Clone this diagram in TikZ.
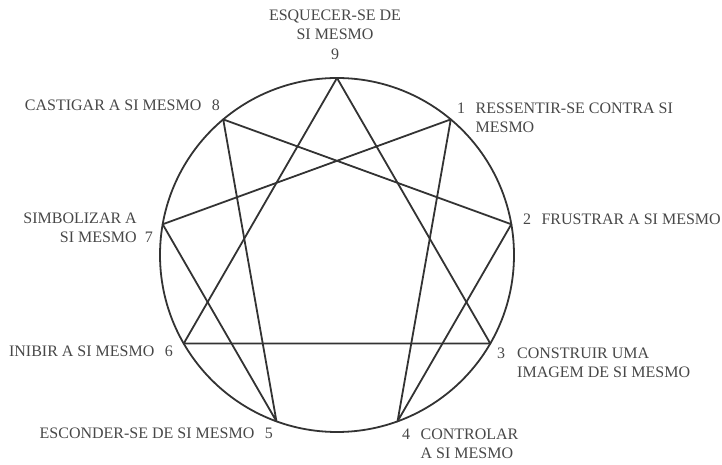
\documentclass[tikz,border=0pt]{standalone}
\usepackage{fontspec}
\setmainfont{Liberation Serif}
\usetikzlibrary{positioning, calc}

\begin{document}
\begin{tikzpicture}[
    x=1pt, y=1pt,
    ring/.style={
        draw=black!80,
        line width=1.8pt
    },
    figura/.style={
        draw=black!80,
        line width=1.8pt,
        line join=round
    },
    rotulo/.style={
        inner sep=0pt,
        text=black!72,
        font=\fontsize{16}{19.5}\selectfont
    }
]
    \useasboundingbox (0,0) rectangle (722,465);

    % Circle and the nine points
    \coordinate (centro) at (337,210);
    \draw[ring] (centro) circle (177pt);
    \foreach \n/\ang in {9/90, 1/50, 2/10, 3/-30, 4/-70, 5/-110, 6/-150, 7/170, 8/130}
        \coordinate (p\n) at ($(centro)+(\ang:177pt)$);

    % Triangle 9-3-6
    \draw[figura] (p9) -- (p3) -- (p6) -- cycle;
    % Hexad 1-4-2-8-5-7
    \draw[figura] (p1) -- (p4) -- (p2) -- (p8) -- (p5) -- (p7) -- cycle;

    % Labels
    \node[rotulo, align=center, anchor=north] (l9) at (335,455.5) {ESQUECER-SE DE\\SI MESMO\\9};
    \node[rotulo, align=left, anchor=north west] (l1) at (457,362.5)
        {\makebox[1.15em][l]{1}RESSENTIR-SE CONTRA SI\\\hspace*{1.15em}MESMO};
    \node[rotulo, anchor=base west] (l2) at (523,240) {\makebox[1.15em][l]{2}FRUSTRAR A SI MESMO};
    \node[rotulo, align=left, anchor=north west] (l3) at (497,117.5)
        {\makebox[1.25em][l]{3}CONSTRUIR UMA\\\hspace*{1.25em}IMAGEM DE SI MESMO};
    \node[rotulo, align=left, anchor=north west] (l4) at (402,36.5)
        {\makebox[1.15em][l]{4}CONTROLAR\\\hspace*{1.15em}A SI MESMO};
    \node[rotulo, anchor=base east] (l5) at (273,26) {ESCONDER-SE DE SI MESMO\makebox[1.15em][r]{5}};
    \node[rotulo, anchor=base east] (l6) at (173,108) {INIBIR A SI MESMO\makebox[1.15em][r]{6}};
    \node[rotulo, align=right, anchor=north east] (l7) at (153,252.5)
        {SIMBOLIZAR A\hspace*{1em}\\SI MESMO\makebox[1em][r]{7}};
    \node[rotulo, anchor=base east] (l8) at (220,354) {CASTIGAR A SI MESMO\makebox[1.15em][r]{8}};

\end{tikzpicture}
\end{document}
